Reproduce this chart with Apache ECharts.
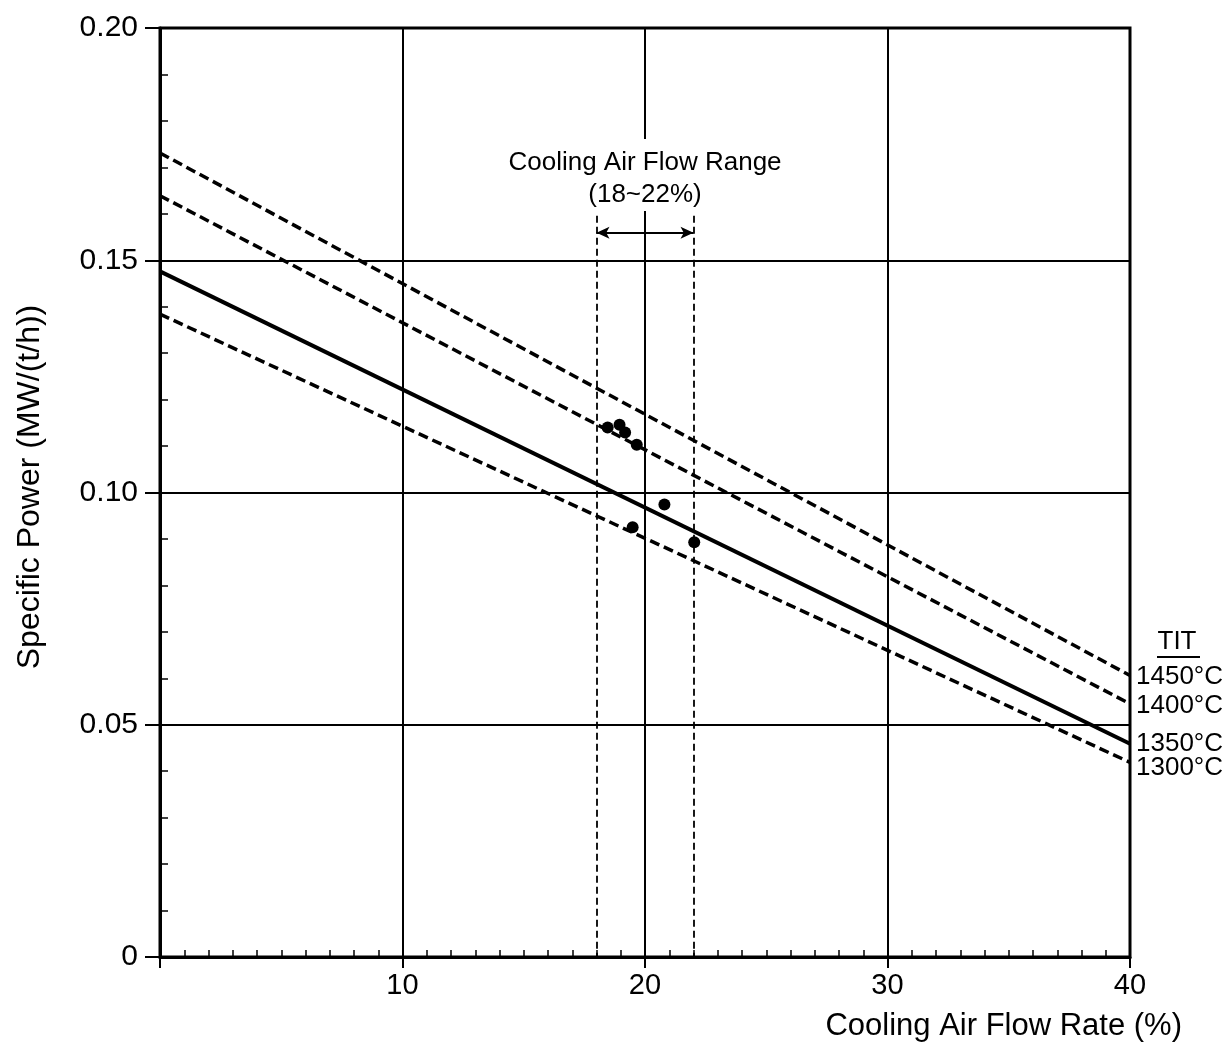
<!DOCTYPE html>
<html>
<head>
<meta charset="utf-8">
<script src="https://cdn.jsdelivr.net/npm/echarts@6/dist/echarts.min.js"></script>
<style>
html,body{margin:0;padding:0;background:#fff;}
#chart{width:1228px;height:1046px;}
</style>
</head>
<body>
<div id="chart"></div>
<script>
// ---- data ----
const xEnds = [0, 40];
const line1450 = [0.1731, 0.0606];
const line1400 = [0.1639, 0.0545];
const line1350 = [0.1476, 0.0459];
const line1300 = [0.1384, 0.0419];
const titNames = ['1450°C', '1400°C', '1350°C', '1300°C'];
const pointsX = [18.46, 18.95, 19.18, 19.66, 20.80, 19.49, 22.03];
const pointsY = [0.1140, 0.1146, 0.1129, 0.1103, 0.0974, 0.0925, 0.0893];
const rangeBounds = [18, 22];
const rangeTop = 0.1596;
const arrowY = 0.1559;
const xTickLabels = ['', '10', '20', '30', '40'];
const yTickLabels = ['0', '0.05', '0.10', '0.15', '0.20'];

const FONT = 'Liberation Sans';
const chart = echarts.init(document.getElementById('chart'));

function pairs(ys) { return xEnds.map((x, i) => [x, ys[i]]); }
const lineSets = [line1450, line1400, line1350, line1300];
const labelOffsets = [[0, 1], [0, 2], [0, 0], [0, 5]];

const lineSeries = lineSets.map((ys, i) => ({
  name: titNames[i],
  type: 'line',
  data: pairs(ys),
  symbol: 'none',
  z: 3,
  lineStyle: {
    color: '#000',
    width: i === 2 ? 4 : 3.5,
    type: i === 2 ? 'solid' : [10, 5]
  },
  endLabel: {
    show: true,
    formatter: titNames[i],
    color: '#000',
    fontFamily: FONT,
    fontSize: 26,
    distance: 6,
    offset: labelOffsets[i]
  },
  silent: true,
  animation: false
}));

const option = {
  animation: false,
  backgroundColor: '#fff',
  grid: {
    left: 160, right: 98, top: 28, bottom: 89,
    show: true, borderColor: '#000', borderWidth: 3, backgroundColor: 'transparent'
  },
  xAxis: [
    {
      type: 'value', min: 0, max: 40, interval: 10, position: 'bottom',
      axisLine: { show: true, lineStyle: { color: '#000', width: 3 } },
      axisTick: { show: true, inside: false, length: 11, lineStyle: { color: '#000', width: 2 } },
      axisLabel: {
        color: '#000', fontFamily: FONT, fontSize: 29, margin: 14,
        formatter: (v) => xTickLabels[Math.round(v / 10)]
      },
      splitLine: { show: true, lineStyle: { color: '#000', width: 2 } }
    },
    {
      type: 'value', min: 0, max: 40, interval: 1, position: 'bottom',
      axisLine: { show: false },
      axisTick: { show: true, inside: true, length: 7, lineStyle: { color: '#000', width: 1.5 } },
      axisLabel: { show: false },
      splitLine: { show: false }
    }
  ],
  yAxis: [
    {
      type: 'value', min: 0, max: 0.2, interval: 0.05, position: 'left',
      axisLine: { show: true, lineStyle: { color: '#000', width: 3 } },
      axisTick: { show: true, inside: false, length: 15, lineStyle: { color: '#000', width: 2 } },
      axisLabel: {
        color: '#000', fontFamily: FONT, fontSize: 30, margin: 22,
        formatter: (v) => yTickLabels[Math.round(v / 0.05)]
      },
      splitLine: { show: true, lineStyle: { color: '#000', width: 2 } }
    },
    {
      type: 'value', min: 0, max: 0.2, interval: 0.01, position: 'left',
      axisLine: { show: false },
      axisTick: { show: true, inside: true, length: 8, lineStyle: { color: '#000', width: 1.5 } },
      axisLabel: { show: false },
      splitLine: { show: false }
    }
  ],
  series: [
    ...lineSeries,
    {
      name: 'Measured',
      type: 'scatter',
      data: pointsX.map((x, i) => [x, pointsY[i]]),
      symbol: 'circle',
      symbolSize: 12,
      itemStyle: { color: '#000', opacity: 1 },
      z: 5,
      silent: true
    },
    {
      name: 'Range',
      type: 'line',
      data: [],
      silent: true,
      markLine: {
        silent: true,
        animation: false,
        symbol: ['none', 'none'],
        label: { show: false },
        lineStyle: { color: '#000', width: 1.8, type: [7, 4] },
        data: [
          [{ coord: [rangeBounds[0], rangeTop] }, { coord: [rangeBounds[0], 0] }],
          [{ coord: [rangeBounds[1], rangeTop] }, { coord: [rangeBounds[1], 0] }],
          [
            { coord: [rangeBounds[0], arrowY], symbol: 'arrow', symbolSize: [9, 13],
              lineStyle: { type: 'solid', width: 2, color: '#000' } },
            { coord: [rangeBounds[1], arrowY], symbol: 'arrow', symbolSize: [9, 13] }
          ]
        ]
      }
    }
  ],
  graphic: [
    { type: 'rect', z: 10, shape: { x: 639, y: 139, width: 13, height: 72 }, style: { fill: '#fff' } },
    { type: 'text', z: 11, x: 645, y: 163,
      style: { text: 'Cooling Air Flow Range', fontFamily: FONT, fontSize: 26, fill: '#000', align: 'center', verticalAlign: 'middle' } },
    { type: 'text', z: 11, x: 645, y: 195,
      style: { text: '(18~22%)', fontFamily: FONT, fontSize: 26, fill: '#000', align: 'center', verticalAlign: 'middle' } },
    { type: 'text', z: 11, x: 1177, y: 642,
      style: { text: 'TIT', fontFamily: FONT, fontSize: 26, fill: '#000', align: 'center', verticalAlign: 'middle' } },
    { type: 'line', z: 11, shape: { x1: 1157, y1: 657, x2: 1200, y2: 657 }, style: { stroke: '#000', lineWidth: 2 } },
    { type: 'text', z: 11, x: 1182, y: 1026,
      style: { text: 'Cooling Air Flow Rate (%)', fontFamily: FONT, fontSize: 31, fill: '#000', align: 'right', verticalAlign: 'middle' } },
    { type: 'text', z: 11, x: 30, y: 487, rotation: Math.PI / 2,
      style: { text: 'Specific Power (MW/(t/h))', fontFamily: FONT, fontSize: 32, fill: '#000', align: 'center', verticalAlign: 'middle' } }
  ]
};
chart.setOption(option);
</script>
</body>
</html>
